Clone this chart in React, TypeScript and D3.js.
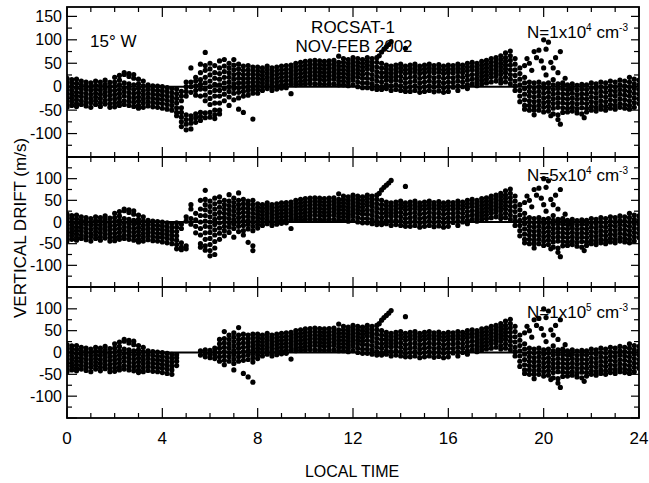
import React from "react";
import * as d3 from "d3";

type Bin = [number, number[]];
type Pt = [number, number];

// local time (h) -> drift values (m/s), grouped in 0.2 h bins
const nightBins: Bin[] = [
  [0.0, [18, 10, 2, -6, -14, -22, -30, -38, -44]],
  [0.2, [15, 8, 0, -8, -16, -24, -32, -40]],
  [0.4, [16, 7, -3, -12, -20, -28, -36, -42]],
  [0.6, [12, 4, -5, -13, -21, -30, -38]],
  [0.8, [10, 2, -6, -15, -24, -33, -41]],
  [1.0, [8, 0, -8, -17, -26, -34, -44]],
  [1.2, [12, 3, -6, -14, -22, -30, -38]],
  [1.4, [10, 2, -7, -16, -25, -34, -42]],
  [1.6, [14, 5, -4, -12, -20, -29, -37]],
  [1.8, [9, 0, -9, -18, -27, -36, -44]],
  [2.0, [20, 10, 1, -8, -17, -26, -35, -43]],
  [2.2, [24, 14, 4, -6, -15, -24, -33, -40]],
  [2.4, [30, 26, 8, -2, -11, -20, -30, -38]],
  [2.6, [28, 22, 6, -4, -13, -22, -31, -40]],
  [2.8, [26, 18, 4, -6, -15, -24, -33, -42]],
  [3.0, [16, 6, -4, -13, -22, -31, -40, -46]],
  [3.2, [12, 2, -8, -17, -26, -35, -44]],
  [3.4, [4, -5, -14, -23, -32, -41]],
  [3.6, [2, -7, -16, -25, -34, -43]],
  [3.8, [1, -8, -17, -26, -35, -44]],
  [4.0, [0, -9, -18, -27, -36, -46]],
  [4.2, [-2, -11, -20, -29, -38, -48]],
  [4.4, [-4, -13, -22, -31, -40, -50]],
];

const dawnTop: Bin[] = [
  [4.6, [-5, -15, -25, -35, -45, -55, -62]],
  [4.8, [-10, -20, -30, -45, -55, -65, -75, -85]],
  [5.0, [10, 0, -10, -20, -60, -70, -80, -92]],
  [5.2, [40, 10, 0, -12, -62, -70, -78, -90]],
  [5.4, [20, 12, 2, -8, -18, -58, -66, -76]],
  [5.6, [48, 30, 15, 5, -5, -20, -55, -64, -72]],
  [5.8, [73, 45, 35, 20, 8, -5, -18, -30, -56, -66]],
  [6.0, [50, 38, 25, 12, 0, -12, -25, -38, -55, -65]],
  [6.2, [45, 30, 18, 5, -8, -20, -35, -50, -60, -68]],
  [6.4, [55, 40, 28, 16, 4, -8, -20, -35, -50, -58]],
  [6.6, [58, 44, 32, 20, 8, -4, -16, -30]],
  [6.8, [50, 40, 30, 20, 10, 0, -10, -22, -40]],
  [7.0, [58, 46, 36, 26, 16, 6, -4, -14, -28]],
  [7.2, [48, 38, 28, 18, 8, -2, -12, -24, -48]],
  [7.4, [44, 35, 26, 17, 8, -1, -10, -20, -55]],
  [7.6, [45, 36, 27, 18, 9, 0, -8, -18]],
  [7.8, [42, 34, 26, 18, 10, 2, -6, -14, -69]],
];

const dawnMid: Bin[] = [
  [4.6, [-2, -12, -22, -32, -42, -52, -62]],
  [4.8, [-5, -15, -48, -58, -64]],
  [5.0, [12, 2, -55, -62]],
  [5.2, [40, 30, 8, -5]],
  [5.4, [20, 5, -10, -25]],
  [5.6, [50, 30, 15, 0, -15, -30, -50, -58]],
  [5.8, [73, 52, 40, 28, 15, 2, -10, -25, -40, -55, -65]],
  [6.0, [48, 36, 24, 12, 0, -12, -24, -38, -52, -66, -78]],
  [6.2, [55, 42, 30, 18, 6, -6, -18, -30, -45, -60, -75]],
  [6.4, [58, 46, 34, 22, 10, -2, -14, -26, -40]],
  [6.6, [50, 40, 30, 20, 10, 0, -10, -20, -32]],
  [6.8, [63, 48, 38, 28, 18, 8, -2, -12, -24]],
  [7.0, [55, 45, 35, 25, 15, 5, -5, -15, -35]],
  [7.2, [67, 50, 40, 30, 20, 10, 0, -10, -22]],
  [7.4, [52, 42, 32, 22, 12, 2, -8, -20, -30]],
  [7.6, [48, 40, 31, 22, 13, 4, -6, -16, -47]],
  [7.8, [50, 40, 30, 20, 10, 0, -10, -20, -55, -66]],
];

const dawnLow: Bin[] = [
  [4.6, [-5, -12, -20, -30]],
  [5.6, [4, -6]],
  [5.8, [6, -2, -10]],
  [6.0, [5, -4, -12]],
  [6.2, [10, 2, -6, -14]],
  [6.4, [30, 20, 10, 0, -10, -20]],
  [6.6, [48, 32, 22, 12, 2, -8, -18, -28]],
  [6.8, [40, 30, 20, 10, 0, -10, -20]],
  [7.0, [45, 35, 25, 15, 5, -5, -15, -25, -40]],
  [7.2, [57, 40, 30, 20, 10, 0, -10, -20]],
  [7.4, [42, 32, 22, 12, 2, -8, -18, -48]],
  [7.6, [40, 31, 22, 13, 4, -6, -16, -56]],
  [7.8, [42, 33, 24, 15, 6, -3, -12, -22, -68]],
];

const dayBins: Bin[] = [
  [8.0, [42, 34, 26, 18, 10, 2, -6, -14]],
  [8.2, [40, 32, 24, 16, 8, 0, -8]],
  [8.4, [44, 36, 28, 20, 12, 4, -4]],
  [8.6, [40, 32, 24, 16, 8, 0, -8]],
  [8.8, [42, 34, 26, 18, 10, 2, -5]],
  [9.0, [44, 36, 28, 20, 12, 4, -3]],
  [9.2, [45, 37, 29, 21, 13, 5, -2]],
  [9.4, [46, 38, 30, 22, 14, 6, -15]],
  [9.6, [50, 42, 34, 26, 18, 10, 4]],
  [9.8, [52, 44, 36, 28, 20, 12, 5]],
  [10.0, [54, 46, 38, 30, 22, 14, 6]],
  [10.2, [55, 47, 39, 31, 23, 15, 7]],
  [10.4, [56, 48, 40, 32, 24, 16, 6]],
  [10.6, [55, 47, 39, 31, 23, 15, 6]],
  [10.8, [54, 46, 38, 30, 22, 14, 5]],
  [11.0, [55, 47, 39, 31, 23, 15, 6]],
  [11.2, [56, 48, 40, 32, 24, 16, 6]],
  [11.4, [65, 52, 44, 36, 28, 20, 12, 4]],
  [11.6, [60, 52, 44, 36, 28, 20, 12, 4]],
  [11.8, [58, 50, 42, 34, 26, 18, 10, 2]],
  [12.0, [62, 54, 46, 38, 30, 22, 14, 4]],
  [12.2, [60, 52, 44, 36, 28, 20, 10, 0]],
  [12.4, [58, 50, 42, 34, 26, 18, 8, -2]],
  [12.6, [62, 54, 46, 38, 28, 18, 8, -2]],
  [12.8, [60, 52, 44, 36, 26, 16, 6, -4]],
  [13.0, [62, 52, 42, 32, 22, 12, 2, -6]],
  [13.2, [74, 50, 40, 30, 20, 10, 0, -6]],
  [13.4, [85, 46, 38, 30, 22, 14, 4, -4]],
  [13.6, [96, 44, 36, 28, 20, 12, 2, -8]],
  [13.8, [46, 38, 30, 22, 14, 4, -6]],
  [14.0, [48, 40, 32, 22, 12, 2, -8]],
  [14.2, [82, 44, 36, 28, 18, 8, -2, -10]],
  [14.4, [46, 38, 30, 20, 10, 0, -10]],
  [14.6, [48, 40, 32, 22, 12, 2, -8]],
  [14.8, [44, 36, 28, 18, 8, -2, -12]],
  [15.0, [46, 38, 30, 20, 10, 0, -10]],
  [15.2, [48, 40, 32, 22, 12, 2, -8]],
  [15.4, [45, 37, 29, 19, 9, -1, -11]],
  [15.6, [47, 39, 31, 21, 11, 1, -9]],
  [15.8, [44, 36, 28, 18, 8, -2, -12]],
  [16.0, [46, 38, 30, 20, 10, 0, -10]],
  [16.2, [45, 37, 29, 19, 9, -1]],
  [16.4, [48, 40, 32, 22, 12, 2, -8]],
  [16.6, [46, 38, 30, 20, 10, 0]],
  [16.8, [50, 42, 34, 24, 14, 4, -4]],
  [17.0, [52, 44, 36, 26, 16, 6]],
  [17.2, [50, 42, 34, 26, 18, 10, 2]],
  [17.4, [54, 46, 38, 30, 22, 14, 6]],
  [17.6, [56, 48, 40, 32, 24, 16, 8]],
  [17.8, [60, 52, 44, 36, 28, 20, 10]],
  [18.0, [62, 54, 46, 38, 30, 22, 12]],
  [18.2, [66, 58, 50, 42, 34, 26, 16, 8]],
  [18.4, [72, 62, 54, 46, 38, 30, 20, 10]],
  [18.6, [76, 66, 56, 46, 36, 26, 16, 6]],
  [18.8, [60, 48, 36, 24, 12, 2, -8]],
  [19.0, [40, 28, 16, 4, -8, -20, -32]],
  [19.2, [20, 8, -4, -16, -28, -40, -48]],
  [19.4, [10, 0, -10, -20, -30, -40, -50]],
  [19.6, [8, -2, -12, -22, -32, -42, -50]],
  [19.8, [10, 0, -10, -20, -30, -40, -50]],
  [20.0, [6, -4, -14, -24, -34, -44, -54]],
  [20.2, [8, -2, -12, -22, -32, -42, -52]],
  [20.4, [4, -6, -16, -26, -36, -46, -58]],
  [20.6, [6, -4, -14, -24, -34, -44, -60]],
  [20.8, [5, -5, -15, -25, -35, -45, -55]],
  [21.0, [4, -6, -16, -26, -36, -46, -54]],
  [21.2, [6, -4, -14, -24, -34, -44, -52]],
  [21.4, [3, -7, -17, -27, -37, -47, -56]],
  [21.6, [5, -5, -15, -25, -35, -45, -58]],
  [21.8, [4, -6, -16, -26, -36, -46, -54]],
  [22.0, [8, -2, -12, -22, -32, -42, -50]],
  [22.2, [6, -4, -14, -24, -34, -44, -52]],
  [22.4, [10, 0, -10, -20, -30, -40, -48]],
  [22.6, [8, -2, -12, -22, -32, -42, -50]],
  [22.8, [12, 2, -8, -18, -28, -38, -46]],
  [23.0, [10, 0, -10, -20, -30, -40, -48]],
  [23.2, [14, 4, -6, -16, -26, -36, -44]],
  [23.4, [12, 2, -8, -18, -28, -38, -46]],
  [23.6, [20, 10, 0, -10, -20, -30, -40, -48]],
  [23.8, [16, 6, -4, -14, -24, -34, -44]],
  [24.0, [14, 4, -6, -16, -26, -36]],
];

// scattered points after the evening drop, and the 13 LT streak
const scatterPts: Pt[] = [
  [13.1, 66], [13.3, 80], [13.5, 90],
  [19.2, 45], [19.3, 60], [19.4, 50], [19.5, 35], [19.6, 75], [19.7, 62],
  [19.8, 78], [19.9, 55], [20.0, 100], [20.1, 80], [20.2, 95], [20.0, 40],
  [20.1, 25], [20.3, 52], [20.4, 40], [20.4, 15], [20.5, 62], [20.6, 30],
  [20.7, 75], [20.8, 8], [20.9, 18], [21.1, -5],
  [19.6, -60], [20.3, -62], [20.6, -70], [20.7, -80], [21.7, -66],
];

const hourTicks = [0, 4, 8, 12, 16, 20, 24];
const driftLabelsTop = [150, 100, 50, 0, -50, -100];
const driftLabels = [100, 50, 0, -50, -100];

const flatten = (bins: Bin[]): Pt[] =>
  bins.flatMap(([t, vs]) => vs.map((v) => [t, v] as Pt));

const panels = [
  { top: 7, bottom: 157, yMax: 170, labels: driftLabelsTop, dawn: dawnTop, mant: "1x10", exp: "4", textY: 38 },
  { top: 157, bottom: 287, yMax: 150, labels: driftLabels, dawn: dawnMid, mant: "5x10", exp: "4", textY: 181 },
  { top: 287, bottom: 418, yMax: 150, labels: driftLabels, dawn: dawnLow, mant: "1x10", exp: "5", textY: 318 },
];

export default function App() {
  const x = d3.scaleLinear().domain([0, 24]).range([67, 639]);
  const [x0, x1] = x.range();
  const hours = d3.range(0, 25);

  return (
    <svg
      width={649}
      height={483}
      style={{ position: "absolute", left: 0, top: 0, background: "#fff" }}
      fontFamily="'Liberation Sans', Arial, sans-serif"
    >
      <defs>
        {panels.map((p, i) => (
          <clipPath id={"clip" + i} key={i}>
            <rect x={x0} y={p.top} width={x1 - x0} height={p.bottom - p.top} />
          </clipPath>
        ))}
      </defs>

      {panels.map((p, i) => {
        const y = d3.scaleLinear().domain([-150, p.yMax]).range([p.bottom, p.top]);
        const minor = d3.range(-150, p.yMax + 1, 25);
        const pts = [...flatten(nightBins), ...flatten(p.dawn), ...flatten(dayBins), ...scatterPts];
        return (
          <g key={i}>
            {i === 0 && (
              <g fontSize={17}>
                <text x={90} y={47}>15° W</text>
                <text x={353} y={33} textAnchor="middle">ROCSAT-1</text>
                <text x={354} y={52} textAnchor="middle">NOV-FEB 2002</text>
              </g>
            )}
            <text x={527} y={p.textY} fontSize={17}>
              N={p.mant}
              <tspan dy={-7} fontSize={10}>{p.exp}</tspan>
              <tspan dy={7}> cm</tspan>
              <tspan dy={-7} fontSize={10}>-3</tspan>
            </text>

            <g clipPath={`url(#clip${i})`}>
              {pts.map((d, j) => (
                <circle key={j} cx={x(d[0])} cy={y(d[1])} r={2.6} fill="#000" />
              ))}
            </g>

            <line x1={x0} x2={x1} y1={y(0)} y2={y(0)} stroke="#000" strokeWidth={2} />

            {/* frame and inward ticks */}
            <rect x={x0} y={p.top} width={x1 - x0} height={p.bottom - p.top} fill="none" stroke="#000" strokeWidth={1.8} />
            {hours.map((h) => {
              const len = h % 4 === 0 ? 10 : 5;
              return (
                <g key={"h" + h} stroke="#000" strokeWidth={1.2}>
                  <line x1={x(h)} x2={x(h)} y1={p.bottom} y2={p.bottom - len} />
                  <line x1={x(h)} x2={x(h)} y1={p.top} y2={p.top + len} />
                </g>
              );
            })}
            {minor.map((v) => {
              const major = v % 50 === 0;
              return (
                <g key={"v" + v} stroke="#000" strokeWidth={1.2}>
                  <line x1={x0} x2={x0 + (major ? 10 : 5)} y1={y(v)} y2={y(v)} />
                  <line x1={x1} x2={x1 - (major ? 8 : 5)} y1={y(v)} y2={y(v)} />
                </g>
              );
            })}
            {p.labels.map((v) => (
              <text key={"l" + v} x={62} y={y(v)} dy="0.35em" textAnchor="end" fontSize={16}>
                {v}
              </text>
            ))}
          </g>
        );
      })}

      {hourTicks.map((h) => (
        <text key={h} x={x(h)} y={444} textAnchor="middle" fontSize={17}>
          {h}
        </text>
      ))}
      <text x={352} y={477} textAnchor="middle" fontSize={16}>LOCAL TIME</text>
      <text transform="translate(26,228) rotate(-90)" textAnchor="middle" fontSize={17}>
        VERTICAL DRIFT (m/s)
      </text>
    </svg>
  );
}
